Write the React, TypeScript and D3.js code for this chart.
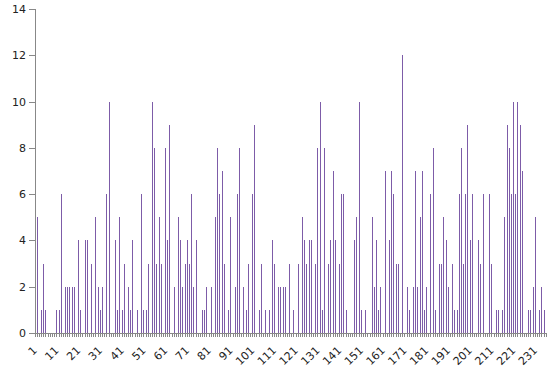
import React, { useEffect, useRef } from "react";
import * as d3 from "d3";

const categories: number[] = Array.from({ length: 236 }, (_, i) => i + 1);
const values: number[] = [
  1, 5, 0, 1, 3, 1, 0, 0, 0, 0,
  1, 1, 6, 0, 2, 2, 2, 2, 2, 0,
  4, 1, 0, 4, 4, 0, 3, 0, 5, 2,
  1, 2, 0, 6, 10, 0, 0, 4, 1, 5,
  1, 3, 0, 2, 1, 4, 0, 1, 0, 6,
  1, 1, 3, 0, 10, 8, 3, 5, 3, 0,
  8, 4, 9, 0, 2, 0, 5, 4, 2, 3,
  4, 3, 6, 2, 4, 0, 0, 1, 1, 2,
  0, 2, 0, 5, 8, 6, 7, 3, 0, 1,
  5, 0, 2, 6, 8, 0, 2, 1, 3, 0,
  6, 9, 0, 1, 3, 0, 1, 0, 1, 4,
  3, 0, 2, 2, 2, 2, 0, 3, 0, 1,
  0, 3, 0, 5, 4, 3, 4, 4, 0, 3,
  8, 10, 1, 8, 0, 3, 4, 7, 4, 0,
  3, 6, 6, 1, 0, 0, 0, 4, 5, 10,
  1, 0, 1, 0, 0, 5, 2, 4, 1, 2,
  0, 7, 0, 4, 7, 6, 3, 3, 0, 12,
  0, 2, 1, 0, 2, 7, 2, 5, 7, 1,
  2, 0, 6, 8, 1, 0, 3, 3, 5, 4,
  2, 0, 3, 1, 1, 6, 8, 3, 6, 9,
  4, 6, 0, 0, 4, 3, 6, 0, 0, 6,
  3, 0, 1, 1, 0, 1, 5, 9, 8, 6,
  10, 6, 10, 9, 7, 0, 0, 1, 1, 2,
  5, 0, 1, 2, 1, 0,
];
const yTicks: number[] = [0, 2, 4, 6, 8, 10, 12, 14];
const xLabelEvery = 10;

export default function App() {
  const ref = useRef<SVGSVGElement | null>(null);

  useEffect(() => {
    const svg = d3.select(ref.current);
    svg.selectAll("*").remove();
    const left = 35, top = 9, bottom = 333;
    const step = 2.175;
    const right = 34 + categories.length * step;

    const x = d3.scaleBand<number>().domain(categories).range([34, right]).padding(0);
    const y = d3.scaleLinear().domain([0, 14]).range([bottom, top]);

    const data = categories.map((c, i) => ({ c, v: values[i] }));

    svg.append("g")
      .selectAll("rect")
      .data(data.filter((d) => d.v > 0))
      .enter()
      .append("rect")
      .attr("x", (d) => Math.round(x(d.c)! + x.bandwidth() / 2 - 0.5))
      .attr("width", 1)
      .attr("y", (d) => y(d.v))
      .attr("height", (d) => bottom - y(d.v))
      .attr("fill", "#7d5ca8")
      .attr("shape-rendering", "crispEdges");

    const yAxis = d3.axisLeft(y).tickValues(yTicks).tickSize(6).tickPadding(3);
    const gy = svg.append("g").attr("transform", `translate(${left},0)`).call(yAxis);
    gy.selectAll("path,line").attr("stroke", "#888").attr("shape-rendering", "crispEdges");
    gy.selectAll("text").attr("font-family", "DejaVu Sans").attr("font-size", 11).attr("fill", "#222");

    const xAxis = d3.axisBottom(x).tickSize(4).tickSizeOuter(0).tickFormat(() => "");
    const gx = svg.append("g").attr("transform", `translate(0,${bottom})`).call(xAxis);
    gx.selectAll("path,line").attr("stroke", "#888").attr("shape-rendering", "crispEdges");
    gx.select("path.domain").attr("d", `M${left},0.5H${right}`);

    const labels = categories.filter((c) => (c - 1) % xLabelEvery === 0);
    svg.append("g")
      .selectAll("text")
      .data(labels)
      .enter()
      .append("text")
      .attr("transform", (c) => `translate(${x(c)! + x.bandwidth() / 2 + 2.5},${bottom + 18}) rotate(-45)`)
      .attr("text-anchor", "end")
      .attr("font-family", "DejaVu Sans")
      .attr("font-size", 11)
      .attr("fill", "#222")
      .text((c) => String(c));
  }, []);

  return (
    <svg
      ref={ref}
      width={559}
      height={383}
      style={{ position: "absolute", left: 0, top: 0, background: "#fff" }}
    />
  );
}
